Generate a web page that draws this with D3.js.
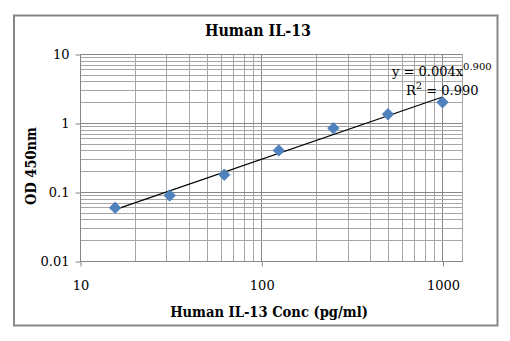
<!DOCTYPE html>
<html><head><meta charset="utf-8">
<script src="https://cdn.jsdelivr.net/npm/d3@7"></script>
<style>body{margin:0;background:#fff}svg{display:block}</style>
</head><body>
<svg id="chart" width="510" height="341"></svg>
<script>
const concentrations = [15.625, 31.25, 62.5, 125, 250, 500, 1000];
const odValues = [0.059, 0.089, 0.178, 0.40, 0.84, 1.34, 2.0];
const xTickValues = [10, 100, 1000];
const yTickValues = [0.01, 0.1, 1, 10];
const titleText = "Human IL-13";
const xTitleText = "Human IL-13 Conc (pg/ml)";
const yTitleText = "OD 450nm";
const eqCoef = "0.004", eqExp = "0.900", r2Text = "0.990";

const svg = d3.select("#chart");
const W = 510, H = 341;
const plot = {l: 80, t: 54, r: 462.5, b: 261};
const xDecade = 181.25;
const x = d3.scaleLog().domain([10, Math.pow(10, 1 + (plot.r - plot.l) / xDecade)]).range([plot.l, plot.r]);
const y = d3.scaleLog().domain([0.01, 10]).range([plot.b, plot.t]);
const titleFont = "'DejaVu Serif Condensed', 'DejaVu Serif', serif";

svg.append("rect").attr("width", W).attr("height", H).attr("fill", "#fff");
svg.append("rect").attr("x", 14).attr("y", 15.5).attr("width", 483.5).attr("height", 310)
  .attr("fill", "#fff").attr("stroke", "#878787").attr("stroke-width", 2);

// gridlines
const g = svg.append("g");
const xGrid = [];
for (let d = 10; d < x.domain()[1]; d *= 10) for (let k = 1; k <= 9; k++) { const v = d * k; if (v <= x.domain()[1]) xGrid.push(v); }
const yGrid = [];
for (let d = 0.01; d < 10; d *= 10) for (let k = 1; k <= 9; k++) yGrid.push(d * k);
yGrid.push(10);
const isMajor = v => Math.abs(Math.log10(v) - Math.round(Math.log10(v))) < 1e-6;
g.selectAll("line.xg").data(xGrid).join("line")
  .attr("x1", d => Math.round(x(d)) + 0.5).attr("x2", d => Math.round(x(d)) + 0.5)
  .attr("y1", plot.t).attr("y2", plot.b)
  .attr("stroke", d => isMajor(d) ? "#868686" : "#a6a6a6").attr("stroke-width", 1);
g.selectAll("line.yg").data(yGrid).join("line")
  .attr("y1", d => Math.round(y(d)) + 0.5).attr("y2", d => Math.round(y(d)) + 0.5)
  .attr("x1", plot.l).attr("x2", plot.r)
  .attr("stroke", d => isMajor(d) ? "#868686" : "#a6a6a6").attr("stroke-width", 1);
g.append("line").attr("x1", plot.r).attr("x2", plot.r).attr("y1", plot.t).attr("y2", plot.b).attr("stroke", "#a6a6a6");

// axes
const fmt = d => String(+d.toPrecision(3));
const xAxis = d3.axisBottom(x).tickValues(xTickValues).tickFormat(fmt).tickSize(5).tickPadding(14);
const yAxis = d3.axisLeft(y).tickValues(yTickValues).tickFormat(fmt).tickSize(5).tickPadding(6);
const xa = svg.append("g").attr("transform", `translate(0.5,${plot.b + 0.5})`).call(xAxis);
const ya = svg.append("g").attr("transform", `translate(${plot.l + 0.5},0.5)`).call(yAxis);
[xa, ya].forEach(a => {
  a.select(".domain").attr("stroke", "#868686");
  a.selectAll(".tick line").attr("stroke", "#868686");
  a.selectAll(".tick text").attr("fill", "#000").attr("font-family", "DejaVu Serif").attr("font-size", 13);
});
xa.select(".domain").attr("d", `M${plot.l},0H${plot.r}`);
ya.select(".domain").attr("d", `M0,${plot.t}V${plot.b}`);

// trendline (power fit, least squares in log space)
const lx = concentrations.map(Math.log10), ly = odValues.map(Math.log10);
const mx = d3.mean(lx), my = d3.mean(ly);
const b = d3.sum(lx.map((v, i) => (v - mx) * (ly[i] - my))) / d3.sum(lx.map(v => (v - mx) ** 2));
const a = my - b * mx;
const x0 = d3.min(concentrations), x1 = d3.max(concentrations);
svg.append("line").attr("x1", x(x0)).attr("y1", y(Math.pow(10, a + b * Math.log10(x0))))
  .attr("x2", x(x1)).attr("y2", y(Math.pow(10, a + b * Math.log10(x1))))
  .attr("stroke", "#000").attr("stroke-width", 1.2);

// markers
const sym = d3.symbol().type(d3.symbolDiamond2).size(85);
svg.selectAll("path.pt").data(concentrations).join("path")
  .attr("transform", (d, i) => `translate(${x(d)},${y(odValues[i])})`)
  .attr("d", sym).attr("fill", "#4f81bd").attr("stroke", "#4a7ebb").attr("stroke-width", 0.8);

// equation
const eq = svg.append("text").attr("x", 392).attr("y", 76).attr("font-family", "DejaVu Serif").attr("font-size", 13).attr("fill", "#000");
eq.append("tspan").text(`y = ${eqCoef}x`);
eq.append("tspan").attr("dy", -6).attr("font-size", 10).text(eqExp);
const r2 = svg.append("text").attr("x", 406).attr("y", 95).attr("font-family", "DejaVu Serif").attr("font-size", 13).attr("fill", "#000");
r2.append("tspan").text("R");
r2.append("tspan").attr("dy", -6).attr("font-size", 10).text("2");
r2.append("tspan").attr("dy", 6).text(` = ${r2Text}`);

// titles, sized to fit measured widths
function fitText(sel, target) {
  const w = sel.node().getComputedTextLength();
  const fs = +sel.attr("font-size");
  sel.attr("font-size", fs * target / w);
}
const title = svg.append("text").attr("x", 258).attr("y", 36).attr("text-anchor", "middle")
  .attr("font-family", titleFont).attr("font-weight", "bold").attr("font-size", 15).text(titleText);
fitText(title, 106);
const xt = svg.append("text").attr("x", 269).attr("y", 317).attr("text-anchor", "middle")
  .attr("font-family", titleFont).attr("font-weight", "bold").attr("font-size", 13).text(xTitleText);
fitText(xt, 198);
const yt = svg.append("text").attr("transform", "translate(36,166) rotate(-90)").attr("text-anchor", "middle")
  .attr("font-family", titleFont).attr("font-weight", "bold").attr("font-size", 13).text(yTitleText);
fitText(yt, 78);
</script>
</body></html>
